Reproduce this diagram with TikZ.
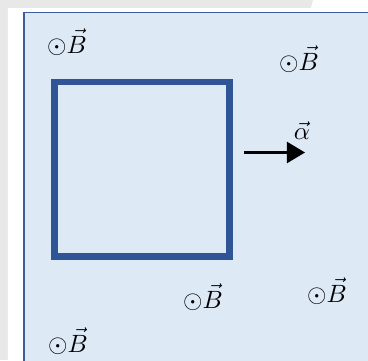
\documentclass[tikz,border=0pt]{standalone}
\usepackage{amsmath,amssymb}
\usepackage{xcolor}
\definecolor{pagegray}{RGB}{232, 232, 232}
\definecolor{fieldfill}{RGB}{222, 233, 246}
\definecolor{fieldedge}{RGB}{59, 94, 154}
\definecolor{loopblue}{RGB}{47, 85, 151}
\usepackage{tikz}
\usetikzlibrary{arrows.meta}

\tikzset{
    bfield/.style={scale=2.5, transform shape, inner sep=0pt},
}

\begin{document}
\begin{tikzpicture}[x=1pt, y=-1pt, >={Triangle[length=18pt, width=21pt]}]
    \useasboundingbox (0,0) rectangle (368,360);

    % Background
    \fill[pagegray] (0,0) rectangle (368,360);
    \fill[white] (8,8) -- (311,8) -- (313,0) -- (368,0) -- (368,360) -- (8,360) -- cycle;

    % Field region
    \draw[fieldedge, line width=1.6pt, fill=fieldfill] (24,12.5) rectangle (372,364);

    % Loop
    \coordinate (LA) at (54.5,82);
    \coordinate (LB) at (229.5,256.5);
    \draw[loopblue, line width=6.3pt] (LA) rectangle (LB);

    % Acceleration
    \coordinate (S) at (244,152.5);
    \coordinate (E) at (305,152.5);
    \draw[->, line width=2.2pt] (S) -- (E);
    \node[bfield] (alpha) at (302,131) {$\vec{\alpha}$};

    % Field labels
    \node[bfield] (b1) at (67,42) {$\odot\vec{B}$};
    \node[bfield] (b2) at (299,59) {$\odot\vec{B}$};
    \node[bfield] (b3) at (203,297) {$\odot\vec{B}$};
    \node[bfield] (b4) at (327,291) {$\odot\vec{B}$};
    \node[bfield] (b5) at (68,341) {$\odot\vec{B}$};
\end{tikzpicture}
\end{document}
